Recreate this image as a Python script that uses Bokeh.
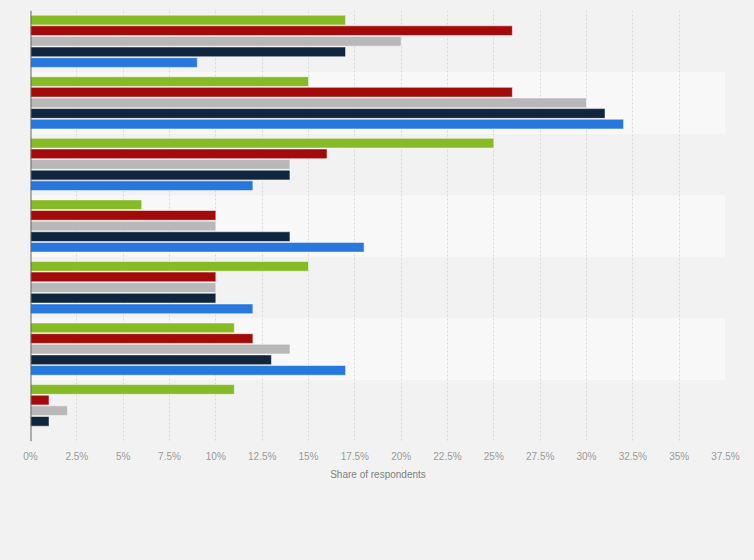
from bokeh.plotting import figure
from bokeh.models import FixedTicker, Span, ColumnDataSource, Range1d
from bokeh.transform import dodge
from bokeh.embed import file_html
from bokeh.resources import INLINE

# ---- data ----
groups = ["Group 1", "Group 2", "Group 3", "Group 4", "Group 5", "Group 6", "Group 7"]
series_names = ["Series 1", "Series 2", "Series 3", "Series 4", "Series 5"]
series_1 = [17, 15, 25, 6, 15, 11, 11]   # green
series_2 = [26, 26, 16, 10, 10, 12, 1]   # red
series_3 = [20, 30, 14, 10, 10, 14, 2]   # gray
series_4 = [17, 31, 14, 14, 10, 13, 1]   # navy
series_5 = [9, 32, 12, 18, 12, 17, 0]    # blue
tick_values = [0, 2.5, 5, 7.5, 10, 12.5, 15, 17.5, 20, 22.5, 25, 27.5, 30, 32.5, 35, 37.5]
tick_labels = ["0%", "2.5%", "5%", "7.5%", "10%", "12.5%", "15%", "17.5%", "20%",
               "22.5%", "25%", "27.5%", "30%", "32.5%", "35%", "37.5%"]
x_title = "Share of respondents"

colors = ["#86bb25", "#a30b0b", "#b8b8b8", "#10253e", "#2877dd"]
BG = "#f2f2f2"
FONT = "Liberation Sans"

idx = list(range(len(groups)))
source = ColumnDataSource(dict(y=idx, s1=series_1, s2=series_2, s3=series_3,
                               s4=series_4, s5=series_5))

p = figure(width=754, height=560, output_backend="svg", toolbar_location=None,
           x_range=Range1d(0, tick_values[-1]), y_range=Range1d(len(groups) - 0.5, -0.5),
           y_axis_location=None, min_border_left=30, min_border_right=29,
           min_border_top=10, min_border_bottom=119)
p.background_fill_color = BG
p.border_fill_color = BG
p.outline_line_color = None

# alternating bands
band_idx = [i for i in idx if i % 2 == 1]
p.hbar(y=band_idx, left=0, right=tick_values[-1], height=1.0,
       fill_color="#f8f8f8", line_color=None, level="image")

pitch = 0.1725
bar_h = 0.158
cols = ["s1", "s2", "s3", "s4", "s5"]
for k, (c, col, name) in enumerate(zip(cols, colors, series_names)):
    p.hbar(y=dodge("y", (k - 2) * pitch, range=p.y_range), left=0, right=c,
           height=bar_h, source=source, fill_color=col,
           line_color="white", line_alpha=0.5, line_width=1, legend_label=name)

p.legend.visible = False

p.add_layout(Span(location=0, dimension="height", line_color="#666666", line_width=2))

# x axis
p.xaxis.ticker = FixedTicker(ticks=tick_values)
p.xaxis.major_label_overrides = {v: l for v, l in zip(tick_values, tick_labels)}
p.xaxis.axis_line_color = None
p.xaxis.major_tick_line_color = None
p.xaxis.minor_tick_line_color = None
p.xaxis.major_tick_out = 0
p.xaxis.major_tick_in = 0
p.xaxis.major_label_standoff = 9
p.xaxis.major_label_text_font = FONT
p.xaxis.major_label_text_font_size = "10px"
p.xaxis.major_label_text_color = "#9a9a9a"
p.xaxis.axis_label = x_title
p.xaxis.axis_label_standoff = 4
p.xaxis.axis_label_text_font = FONT
p.xaxis.axis_label_text_font_size = "10px"
p.xaxis.axis_label_text_font_style = "normal"
p.xaxis.axis_label_text_color = "#808080"

p.xgrid.ticker = FixedTicker(ticks=tick_values)
p.xgrid.grid_line_color = "#d9d9d9"
p.xgrid.grid_line_dash = "2 2"
p.ygrid.grid_line_color = None

html = file_html(p, INLINE)
html = html.replace("</head>",
                    "<style>html,body{margin:0;padding:0;background:%s;overflow:hidden;}</style></head>" % BG, 1)
open("out.html", "w").write(html)
